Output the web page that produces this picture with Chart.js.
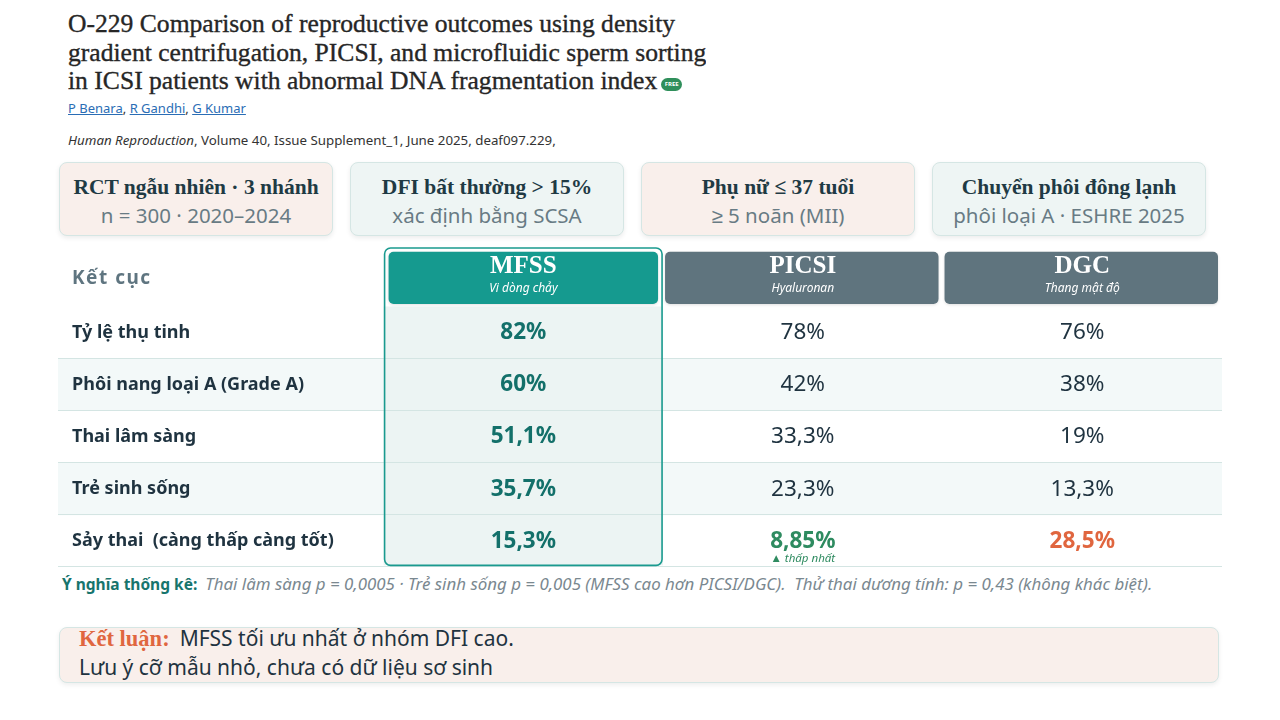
<!DOCTYPE html>
<html lang="vi">
<head>
<meta charset="utf-8">
<script src="https://cdn.jsdelivr.net/npm/chart.js@4.4.1/dist/chart.umd.min.js"></script>
<style>
  html, body { margin: 0; padding: 0; background: #fff; }
  body { width: 1280px; height: 720px; position: relative; overflow: hidden; font-family: "Noto Sans", sans-serif; }
  .title { position: absolute; left: 68px; top: 10px; width: 638px; overflow: hidden; white-space: nowrap;
    font-family: "Liberation Serif", serif; font-size: 25.6px; line-height: 28.5px; color: #262626;
    -webkit-text-stroke: 0.35px #262626; }
  .free { display: inline-block; width: 21px; height: 13px; border-radius: 7px; background: #2f8f5b; color: #fff;
    font: bold 6px "Noto Sans", sans-serif; line-height: 13px; text-align: center; vertical-align: 3px; margin-left: 4px;
    -webkit-text-stroke: 0; }
  .authors { position: absolute; left: 68px; top: 99px; font-size: 13px; color: #333; }
  .authors a { color: #2a6db5; text-decoration: underline; }
  .journal { position: absolute; left: 68px; top: 131px; font-size: 13.3px; color: #333; }
  .cards { position: absolute; left: 59px; top: 162px; display: flex; gap: 17px; }
  .card { width: 274px; height: 74px; box-sizing: border-box; border: 1px solid #d5e6e4; border-radius: 8px;
    box-shadow: 0 2px 5px rgba(0,0,0,0.08); text-align: center; }
  .card.pink { background: #f9efeb; }
  .card.teal { background: #eef5f4; }
  .card .h { font: bold 21.5px "Liberation Serif", serif; color: #1f3a44; margin-top: 11px; line-height: 26px; }
  .card .s { font-size: 20.5px; color: #687b84; line-height: 30px; }
  #wrap { position: absolute; left: 58px; top: 247px; width: 1164px; height: 322px; }
  .note { position: absolute; left: 62px; top: 572px; white-space: nowrap; }
  .note b { color: #17756d; margin-right: 8px; font-size: 15.5px; }
  .note i { color: #7a8890; font-size: 16.9px; }
  .concl { position: absolute; left: 59px; top: 627px; width: 1160px; height: 56px; box-sizing: border-box;
    background: #f9efeb; border: 1px solid #d5e6e4; border-radius: 8px; box-shadow: 0 2px 5px rgba(0,0,0,0.07);
    padding: 0 0 0 19px; font-size: 21px; color: #1f3340; line-height: 28px; }
  .concl div { position: relative; top: -4px; }
  .concl .k { font-family: "Liberation Serif", serif; font-weight: bold; font-size: 22.5px; color: #e0663f; margin-right: 10px; }
</style>
</head>
<body>
<div class="title">O-229 Comparison of reproductive outcomes using density<br>gradient centrifugation, PICSI, and microfluidic sperm sorting<br>in ICSI patients with abnormal DNA fragmentation index<span class="free">FREE</span></div>
<div class="authors"><a>P Benara</a>, <a>R Gandhi</a>, <a>G Kumar</a></div>
<div class="journal"><i>Human Reproduction</i>, Volume 40, Issue Supplement_1, June 2025, deaf097.229,</div>

<div class="cards">
  <div class="card pink"><div class="h">RCT ngẫu nhiên · 3 nhánh</div><div class="s">n = 300 · 2020–2024</div></div>
  <div class="card teal"><div class="h">DFI bất thường &gt; 15%</div><div class="s">xác định bằng SCSA</div></div>
  <div class="card pink"><div class="h">Phụ nữ ≤ 37 tuổi</div><div class="s">≥ 5 noãn (MII)</div></div>
  <div class="card teal"><div class="h">Chuyển phôi đông lạnh</div><div class="s">phôi loại A · ESHRE 2025</div></div>
</div>

<div id="wrap"><canvas id="table"></canvas></div>

<div class="note"><b>Ý nghĩa thống kê:</b><i>Thai lâm sàng p = 0,0005 · Trẻ sinh sống p = 0,005 (MFSS cao hơn PICSI/DGC).&nbsp; Thử thai dương tính: p = 0,43 (không khác biệt).</i></div>

<div class="concl"><div><span class="k">Kết luận:</span>MFSS tối ưu nhất ở nhóm DFI cao.<br>Lưu ý cỡ mẫu nhỏ, chưa có dữ liệu sơ sinh</div></div>

<script>
// table data
const outcomes = ["Tỷ lệ thụ tinh", "Phôi nang loại A (Grade A)", "Thai lâm sàng", "Trẻ sinh sống", "Sảy thai  (càng thấp càng tốt)"];
const methods = ["MFSS", "PICSI", "DGC"];
const methodNotes = ["Vi dòng chảy", "Hyaluronan", "Thang mật độ"];
const mfss = [82, 60, 51.1, 35.7, 15.3];
const picsi = [78, 42, 33.3, 23.3, 8.85];
const dgc = [76, 38, 19, 13.3, 28.5];
const lowerIsBetter = [false, false, false, false, true];
const headerLabel = "Kết cục";

const series = [mfss, picsi, dgc];
const fmt = (v) => String(v).replace(".", ",") + "%";

function roundRect(ctx, x, y, w, h, r) {
  ctx.beginPath();
  ctx.roundRect(x, y, w, h, r);
}

const tablePlugin = {
  id: "tableCells",
  beforeDatasetsDraw(chart) {
    const { ctx, scales: { x, y } } = chart;
    const left = x.getPixelForValue(x.min), right = x.getPixelForValue(x.max);
    const c0 = x.getPixelForValue(0.5), c1 = x.getPixelForValue(1.5);
    ctx.save();
    // striped rows
    outcomes.forEach((o, i) => {
      const r = i + 1;
      const top = y.getPixelForValue(r - 0.5), bot = y.getPixelForValue(r + 0.5);
      if (i % 2 === 1) {
        ctx.fillStyle = "#f3f9f9";
        ctx.fillRect(left, top, right - left, bot - top);
      }
    });
    // highlighted MFSS column
    const hTop = y.getPixelForValue(-0.62), hBot = y.getPixelForValue(5.46);
    ctx.fillStyle = "#ecf4f3";
    ctx.fillRect(c0, y.getPixelForValue(0.5), c1 - c0, hBot - y.getPixelForValue(0.5));
    // row separators
    ctx.strokeStyle = "#d4e5e3";
    ctx.lineWidth = 1;
    outcomes.forEach((o, i) => {
      const py = Math.round(y.getPixelForValue(i + 1.5)) - 0.5;
      ctx.beginPath(); ctx.moveTo(left, py); ctx.lineTo(right, py); ctx.stroke();
    });
    // column outline
    ctx.strokeStyle = "#1a9a8f";
    ctx.lineWidth = 1.6;
    roundRect(ctx, c0 + 1, hTop, c1 - c0 - 2, hBot - hTop, 6);
    ctx.stroke();
    // header boxes
    methods.forEach((m, j) => {
      const col = j + 1;
      const bx0 = x.getPixelForValue(col - 0.5) + (j === 0 ? 5 : 2);
      const bx1 = x.getPixelForValue(col + 0.5) - (j === 0 ? 5 : 4);
      const by0 = y.getPixelForValue(-0.55), by1 = y.getPixelForValue(0.45);
      ctx.shadowColor = "rgba(0,0,0,0.12)";
      ctx.shadowBlur = 3;
      ctx.shadowOffsetY = 1;
      ctx.fillStyle = j === 0 ? "#159a8f" : "#5f747e";
      roundRect(ctx, bx0, by0, bx1 - bx0, by1 - by0, 5);
      ctx.fill();
      ctx.shadowColor = "transparent";
      const cx = x.getPixelForValue(col);
      ctx.fillStyle = "#fff";
      ctx.textAlign = "center";
      ctx.textBaseline = "alphabetic";
      ctx.font = "bold 25px 'Liberation Serif', serif";
      ctx.fillText(m, cx, by0 + 21);
      ctx.font = "italic 12px 'Noto Sans', sans-serif";
      ctx.fillText(methodNotes[j], cx, by0 + 40);
    });
    // header label + row labels
    ctx.textAlign = "left";
    ctx.textBaseline = "middle";
    ctx.fillStyle = "#5f7580";
    ctx.font = "bold 19px 'Noto Sans', sans-serif";
    ctx.letterSpacing = "1.5px";
    ctx.fillText(headerLabel, left + 14, y.getPixelForValue(-0.03));
    ctx.letterSpacing = "0px";
    ctx.fillStyle = "#1f3340";
    ctx.font = "bold 18px 'Noto Sans', sans-serif";
    outcomes.forEach((o, i) => {
      ctx.fillText(o, left + 14, y.getPixelForValue(i + 1));
    });
    ctx.restore();
  },
  afterDatasetsDraw(chart) {
    const { ctx } = chart;
    ctx.save();
    ctx.textAlign = "center";
    ctx.textBaseline = "middle";
    chart.data.datasets.forEach((ds, j) => {
      const meta = chart.getDatasetMeta(j);
      meta.data.forEach((pt, i) => {
        const v = series[j][i];
        let color = "#1f3340", weight = "normal", note = null;
        if (j === 0) { color = "#13706a"; weight = "bold"; }
        else if (lowerIsBetter[i]) {
          const others = [picsi[i], dgc[i]];
          if (v === Math.min(...others)) { color = "#2e8b60"; weight = "bold"; note = "▲ thấp nhất"; }
          else if (v === Math.max(...others)) { color = "#e0663f"; weight = "bold"; }
        }
        ctx.fillStyle = color;
        ctx.font = weight + " 22.5px 'Noto Sans', sans-serif";
        ctx.fillText(fmt(v), pt.x, pt.y);
        if (note) {
          ctx.font = "italic 11.5px 'Noto Sans', sans-serif";
          ctx.fillText(note, pt.x, pt.y + 17);
        }
      });
    });
    ctx.restore();
  }
};

new Chart(document.getElementById("table"), {
  type: "scatter",
  data: {
    datasets: series.map((s, j) => ({
      label: methods[j],
      data: s.map((v, i) => ({ x: j + 1, y: i + 1 })),
      pointRadius: 0,
      pointHoverRadius: 0,
    })),
  },
  options: {
    responsive: true,
    maintainAspectRatio: false,
    animation: false,
    layout: { padding: 0 },
    plugins: { legend: { display: false }, tooltip: { enabled: false } },
    scales: {
      x: { type: "linear", min: -0.665, max: 3.5, display: false },
      y: { type: "linear", min: -0.64, max: 5.53, reverse: true, display: false },
    },
  },
  plugins: [tablePlugin],
});
</script>
</body>
</html>
